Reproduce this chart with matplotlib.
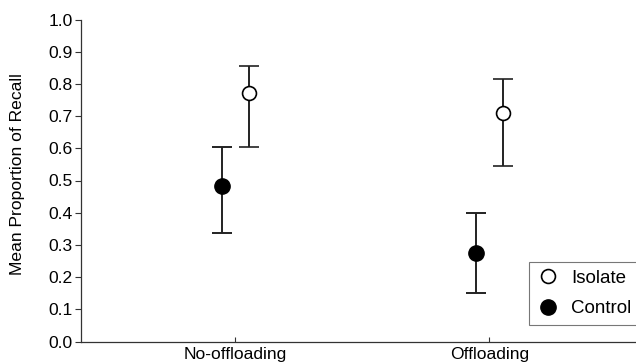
import matplotlib
matplotlib.use("Agg")
import matplotlib.pyplot as plt
from matplotlib.lines import Line2D
import numpy as np

plt.rcParams['font.family'] = ['Liberation Sans', 'DejaVu Sans']

categories = ["No-offloading", "Offloading"]
isolate_mean = [0.771, 0.711]
isolate_lo = [0.605, 0.545]
isolate_hi = [0.857, 0.815]
control_mean = [0.482, 0.274]
control_lo = [0.337, 0.150]
control_hi = [0.605, 0.399]
yticks = [0.0, 0.1, 0.2, 0.3, 0.4, 0.5, 0.6, 0.7, 0.8, 0.9, 1.0]

FS = 12.6
fig = plt.figure(figsize=(6.36, 3.63), dpi=100)
ax = fig.add_axes([81/636, 21.5/363, 1 - 81/636, (341.5-19.5)/363])

x = np.arange(len(categories))
off = 0.053
ec = '#222222'

im = np.array(isolate_mean)
cm = np.array(control_mean)
ax.errorbar(x + off, im, yerr=[im - np.array(isolate_lo), np.array(isolate_hi) - im],
            fmt='o', color=ec, ecolor=ec, elinewidth=1.4, capsize=7, capthick=1.4,
            markersize=10, markerfacecolor='white', markeredgecolor='black',
            markeredgewidth=1.2, zorder=3)
ax.errorbar(x - off, cm, yerr=[cm - np.array(control_lo), np.array(control_hi) - cm],
            fmt='o', color=ec, ecolor=ec, elinewidth=1.4, capsize=7, capthick=1.4,
            markersize=11, markerfacecolor='black', markeredgecolor='black',
            zorder=3)

ax.set_xlim(-0.608, 1.577)
ax.set_ylim(0, 1.0)
ax.set_yticks(yticks)
ax.set_yticklabels([f"{v:.1f}" for v in yticks])
ax.set_xticks(x)
ax.set_xticklabels(categories)
ax.tick_params(axis='x', direction='in', length=3.5, width=0.8, labelsize=FS, pad=4,
               colors='black', color='#333333')
ax.tick_params(axis='y', length=4, width=0.8, labelsize=FS, pad=2, color='#333333')
ax.set_ylabel("Mean Proportion of Recall", fontsize=FS)
ax.yaxis.set_label_coords(-(81 - 25) / (636 - 81), (341.5 - 174.5) / 322)
for s in ['top', 'right']:
    ax.spines[s].set_visible(False)
for s in ['left', 'bottom']:
    ax.spines[s].set_color('#333333')
    ax.spines[s].set_linewidth(0.9)

handles = [
    Line2D([], [], linestyle='none', marker='o', markersize=10,
           markerfacecolor='white', markeredgecolor='black', markeredgewidth=1.2),
    Line2D([], [], linestyle='none', marker='o', markersize=11,
           markerfacecolor='black', markeredgecolor='black'),
]
leg = ax.legend(handles, ['Isolate', 'Control'], loc='upper left',
                bbox_to_anchor=(529/636, (363-262)/363),
                bbox_transform=fig.transFigure, fontsize=13.5, frameon=True,
                fancybox=False, borderpad=0.4, handletextpad=0.65,
                handlelength=1.2, labelspacing=0.72, borderaxespad=0)
leg.get_frame().set_edgecolor('#555555')
leg.get_frame().set_linewidth(0.8)

fig.savefig("out.png", dpi=100)
